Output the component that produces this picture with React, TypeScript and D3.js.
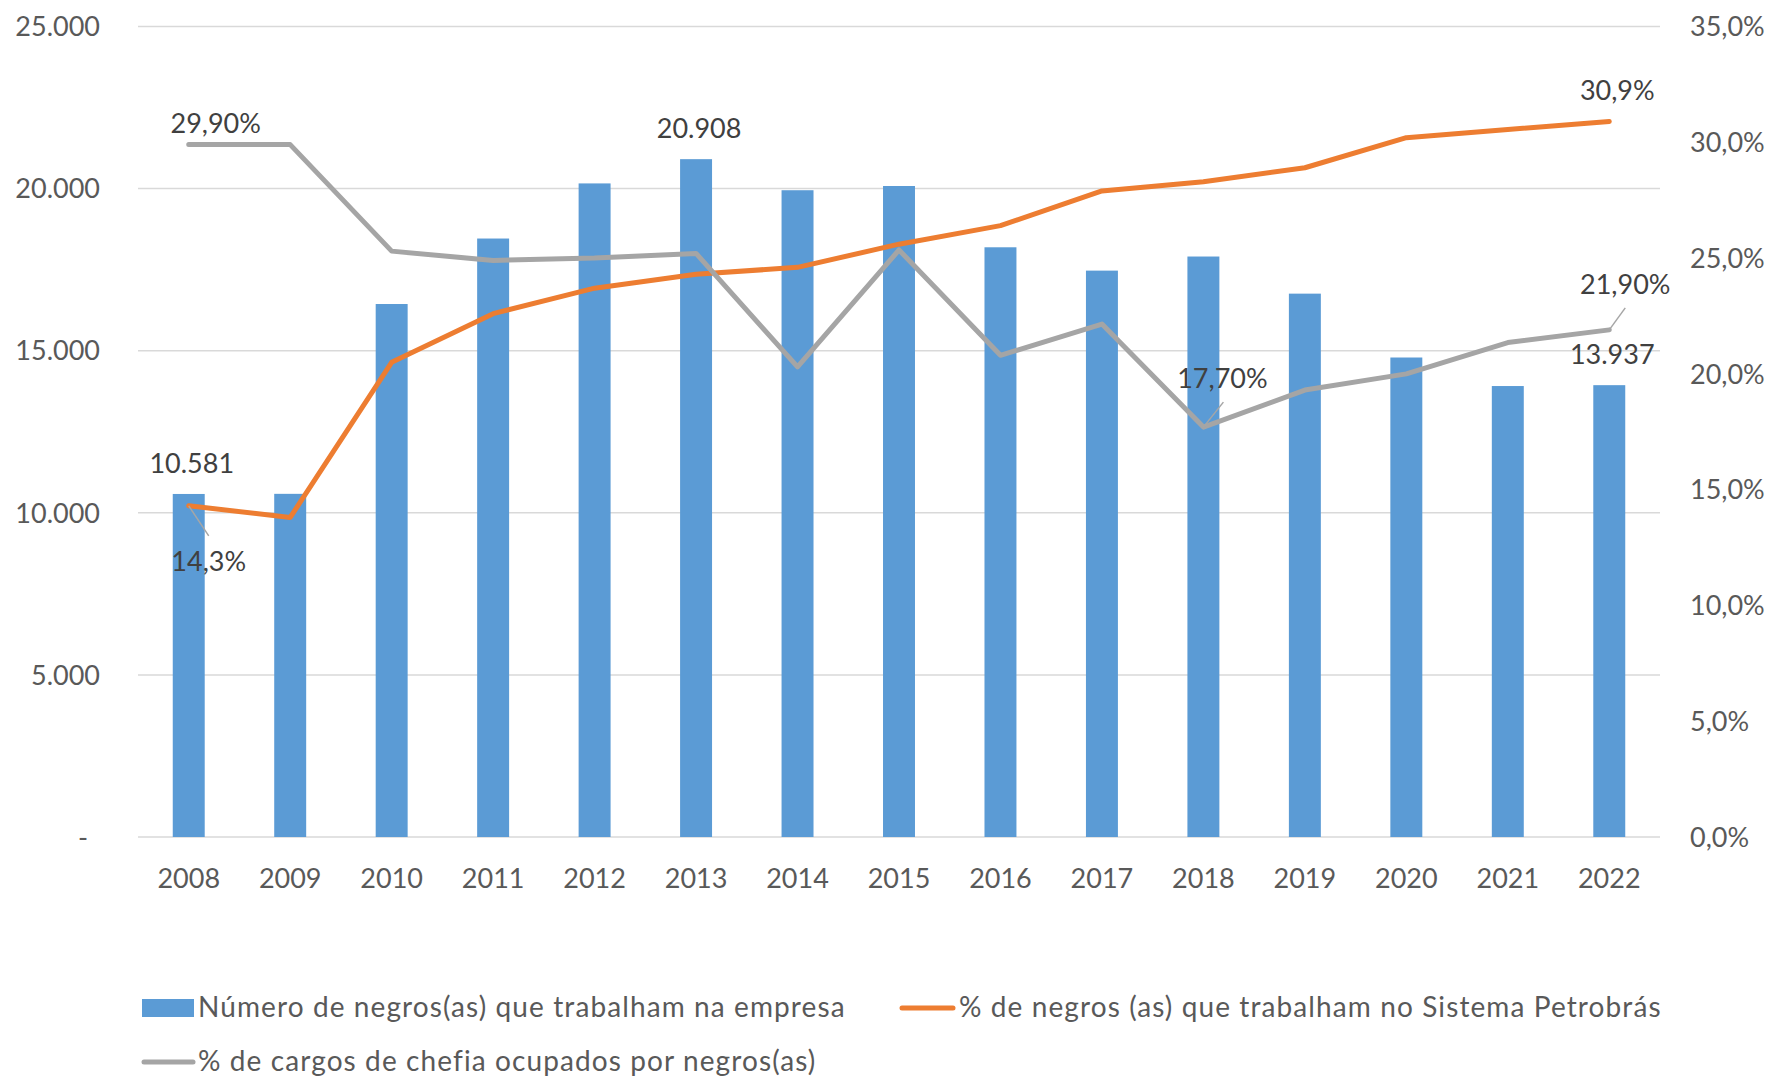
import React from "react";
import * as d3 from "d3";

const years = ["2008", "2009", "2010", "2011", "2012", "2013", "2014", "2015", "2016", "2017", "2018", "2019", "2020", "2021", "2022"];
// Número de negros(as) que trabalham na empresa
const workers = [10581, 10585, 16440, 18460, 20160, 20908, 19950, 20080, 18190, 17470, 17905, 16760, 14790, 13910, 13937];
// % de negros (as) que trabalham no Sistema Petrobrás
const pctWorkers = [14.3, 13.8, 20.5, 22.6, 23.7, 24.3, 24.6, 25.6, 26.4, 27.9, 28.3, 28.9, 30.2, 30.55, 30.9];
// % de cargos de chefia ocupados por negros(as)
const pctChefia = [29.9, 29.9, 25.3, 24.9, 25.0, 25.2, 20.3, 25.35, 20.8, 22.15, 17.7, 19.3, 20.0, 21.35, 21.9];

const leftTicks = [0, 5000, 10000, 15000, 20000, 25000];
const rightTicks = [0, 5, 10, 15, 20, 25, 30, 35];

const BLUE = "#5B9BD5";
const ORANGE = "#ED7D31";
const GRAY = "#A5A5A5";
const FONT = "Lato, 'Open Sans', sans-serif";

const W = 1772;
const H = 1077;
const left = 138;
const right = 1660;
const top = 26.5;
const bottom = 837;

const fmtThousands = (v: number) => (v === 0 ? "-" : d3.format(",")(v).replace(/,/g, "."));
const fmtPct1 = (v: number) => v.toFixed(1).replace(".", ",") + "%";
const fmtPct2 = (v: number) => v.toFixed(2).replace(".", ",") + "%";

const App = () => {
  const x = d3.scaleBand().domain(years).range([left, right]).paddingInner(0.685).paddingOuter(0.3425);
  const yL = d3.scaleLinear().domain([0, 25000]).range([bottom, top]);
  const yR = d3.scaleLinear().domain([0, 35]).range([bottom, top]);
  const cx = (y: string) => (x(y) as number) + x.bandwidth() / 2;

  const line = d3.line<number>().x((d, i) => cx(years[i])).y((d) => yR(d));

  // which points get a data label
  const iFirst = 0;
  const iLast = years.length - 1;
  const iMin = pctChefia.indexOf(d3.min(pctChefia) as number);
  const iMax = workers.indexOf(d3.max(workers) as number);

  return (
    <svg width={W} height={H} style={{ position: "absolute", left: 0, top: 0, background: "#fff" }} fontFamily={FONT}>
      {leftTicks.map((t) => (
        <g key={"g" + t}>
          <line x1={left} x2={right} y1={yL(t)} y2={yL(t)} stroke="#D9D9D9" strokeWidth={1.5} />
          <text x={t === 0 ? 88 : 100} y={yL(t)} dy="0.36em" textAnchor="end" fontSize={27} fill="#595959">
            {fmtThousands(t)}
          </text>
        </g>
      ))}
      {rightTicks.map((t) => (
        <text key={"r" + t} x={1690} y={yR(t)} dy="0.36em" fontSize={27} fill="#595959">
          {fmtPct1(t)}
        </text>
      ))}
      {years.map((y) => (
        <text key={"x" + y} x={cx(y)} y={888} textAnchor="middle" fontSize={27} fill="#595959">
          {y}
        </text>
      ))}

      {workers.map((v, i) => (
        <rect key={"b" + i} x={x(years[i])} y={yL(v)} width={x.bandwidth()} height={bottom - yL(v)} fill={BLUE} />
      ))}

      <path d={line(pctWorkers) as string} fill="none" stroke={ORANGE} strokeWidth={5} strokeLinejoin="round" strokeLinecap="round" />
      <path d={line(pctChefia) as string} fill="none" stroke={GRAY} strokeWidth={5} strokeLinejoin="round" strokeLinecap="round" />

      {/* bar labels */}
      {[iFirst, iMax, iLast].map((i) => (
        <text key={"bl" + i} x={cx(years[i]) + 3} y={yL(workers[i]) - 21} textAnchor="middle" fontSize={27} fill="#404040">
          {fmtThousands(workers[i])}
        </text>
      ))}

      {/* leader lines */}
      <g stroke="#A6A6A6" strokeWidth={1.5}>
        <line x1={cx(years[iFirst])} y1={yR(pctWorkers[iFirst])} x2={cx(years[iFirst]) + 20} y2={yR(pctWorkers[iFirst]) + 30} />
        <line x1={cx(years[iMin])} y1={yR(pctChefia[iMin])} x2={cx(years[iMin]) + 20} y2={yR(pctChefia[iMin]) - 25} />
        <line x1={cx(years[iLast])} y1={yR(pctChefia[iLast])} x2={cx(years[iLast]) + 16} y2={yR(pctChefia[iLast]) - 22} />
      </g>

      {/* line labels */}
      <g fontSize={27} fill="#404040" textAnchor="middle">
        <text x={cx(years[iFirst]) + 27} y={yR(pctChefia[iFirst]) - 12}>{fmtPct2(pctChefia[iFirst])}</text>
        <text x={cx(years[iFirst]) + 20} y={yR(pctWorkers[iFirst]) + 65}>{fmtPct1(pctWorkers[iFirst])}</text>
        <text x={cx(years[iMin]) + 19} y={yR(pctChefia[iMin]) - 39}>{fmtPct2(pctChefia[iMin])}</text>
        <text x={cx(years[iLast]) + 8} y={yR(pctWorkers[iLast]) - 21}>{fmtPct1(pctWorkers[iLast])}</text>
        <text x={cx(years[iLast]) + 16} y={yR(pctChefia[iLast]) - 36}>{fmtPct2(pctChefia[iLast])}</text>
      </g>

      {/* legend */}
      <g fontSize={28} fill="#595959" letterSpacing={1.1}>
        <rect x={142} y={999} width={52} height={18} fill={BLUE} />
        <text x={198} y={1017}>Número de negros(as) que trabalham na empresa</text>
        <line x1={902} x2={953} y1={1008} y2={1008} stroke={ORANGE} strokeWidth={5} strokeLinecap="round" />
        <text x={959} y={1017}>% de negros (as) que trabalham no Sistema Petrobrás</text>
        <line x1={144} x2={193} y1={1062} y2={1062} stroke={GRAY} strokeWidth={5} strokeLinecap="round" />
        <text x={198} y={1071}>% de cargos de chefia ocupados por negros(as)</text>
      </g>
    </svg>
  );
};

export default App;
